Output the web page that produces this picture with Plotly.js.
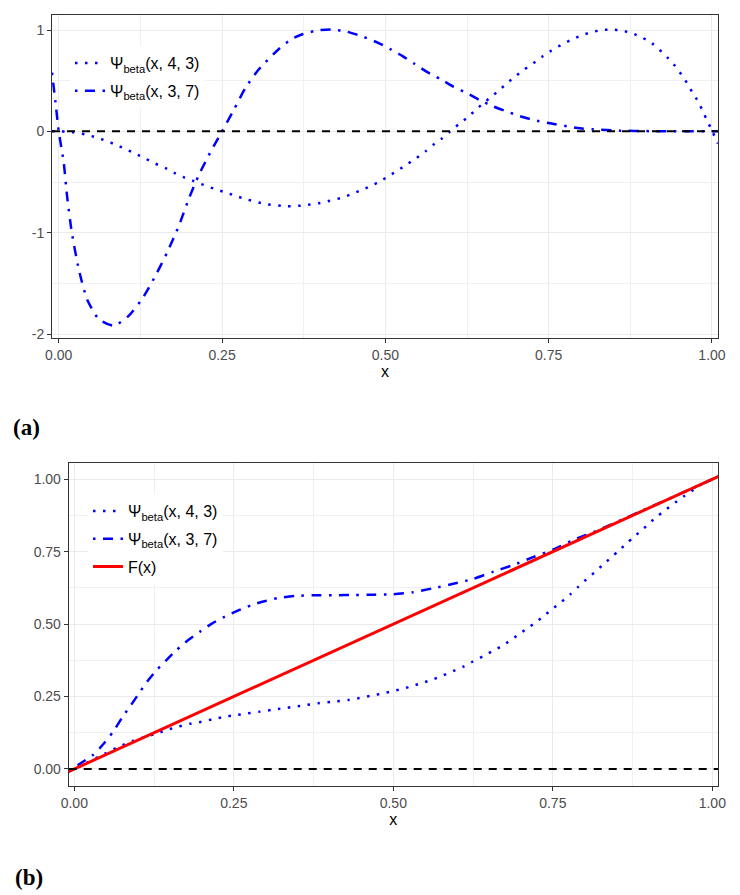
<!DOCTYPE html>
<html><head><meta charset="utf-8">
<script src="https://cdn.plot.ly/plotly-3.0.1.min.js"></script>
<style>body{margin:0;background:#fff}#chart{width:740px;height:895px}</style>
</head><body><div id="chart"></div>
<script>
// ---------- Panel (a) ----------
const aX43 = [-0.0103, 0, 0.015, 0.023, 0.04, 0.057, 0.072, 0.087, 0.102, 0.118, 0.133, 0.147, 0.163, 0.177, 0.191, 0.206, 0.222, 0.239, 0.255, 0.27, 0.286, 0.316, 0.35, 0.367, 0.382, 0.40, 0.415, 0.431, 0.446, 0.461, 0.477, 0.492, 0.506, 0.52, 0.534, 0.547, 0.561, 0.573, 0.587, 0.599, 0.612, 0.625, 0.637, 0.65, 0.663, 0.675, 0.687, 0.70, 0.713, 0.727, 0.74, 0.754, 0.768, 0.783, 0.798, 0.813, 0.829, 0.845, 0.862, 0.878, 0.893, 0.908, 0.92, 0.932, 0.943, 0.953, 0.962, 0.97, 0.979, 0.986, 0.993, 1.0, 1.009];
const aY43 = [0.002, 0, -0.004, -0.01, -0.03, -0.059, -0.092, -0.131, -0.174, -0.223, -0.27, -0.316, -0.361, -0.41, -0.452, -0.489, -0.529, -0.569, -0.602, -0.635, -0.668, -0.717, -0.738, -0.735, -0.724, -0.707, -0.684, -0.659, -0.625, -0.585, -0.541, -0.493, -0.437, -0.381, -0.322, -0.266, -0.2, -0.134, -0.069, -0.003, 0.069, 0.134, 0.204, 0.278, 0.345, 0.41, 0.479, 0.548, 0.612, 0.675, 0.737, 0.797, 0.849, 0.898, 0.942, 0.974, 0.997, 1.004, 0.994, 0.967, 0.925, 0.869, 0.803, 0.727, 0.649, 0.563, 0.474, 0.385, 0.293, 0.197, 0.102, 0.007, -0.12];
const aX37 = [-0.0103, -0.005, 0.0, 0.0077, 0.0127, 0.020, 0.0306, 0.0433, 0.0612, 0.0842, 0.107, 0.1275, 0.148, 0.166, 0.184, 0.199, 0.214, 0.232, 0.25, 0.268, 0.286, 0.306, 0.337, 0.357, 0.374, 0.40, 0.42, 0.441, 0.464, 0.487, 0.507, 0.527, 0.545, 0.563, 0.584, 0.604, 0.625, 0.645, 0.665, 0.686, 0.706, 0.7265, 0.752, 0.778, 0.798, 0.818, 0.859, 0.905, 0.95, 1.0, 1.009];
const aY37 = [0.58, 0.29, 0.0, -0.31, -0.635, -0.997, -1.358, -1.655, -1.852, -1.918, -1.82, -1.655, -1.425, -1.194, -0.93, -0.667, -0.437, -0.207, 0, 0.212, 0.43, 0.61, 0.813, 0.912, 0.961, 1.0, 1.004, 0.984, 0.938, 0.879, 0.813, 0.74, 0.665, 0.589, 0.517, 0.441, 0.377, 0.306, 0.247, 0.196, 0.15, 0.112, 0.079, 0.05, 0.03, 0.02, 0.007, 0.002, 0.0, 0.0, 0.0];

// ---------- Panel (b) ----------
const bX43 = [-0.0088, 0.019, 0.048, 0.071, 0.092, 0.113, 0.131, 0.147, 0.1625, 0.181, 0.199, 0.217, 0.236, 0.254, 0.272, 0.291, 0.309, 0.327, 0.346, 0.364, 0.382, 0.403, 0.429, 0.447, 0.466, 0.484, 0.4995, 0.515, 0.530, 0.547, 0.563, 0.578, 0.594, 0.610, 0.624, 0.640, 0.654, 0.669, 0.683, 0.697, 0.711, 0.725, 0.738, 0.751, 0.764, 0.777, 0.789, 0.802, 0.815, 0.827, 0.840, 0.852, 0.865, 0.877, 0.890, 0.902, 0.915, 0.9285, 0.942, 0.956, 0.970, 0.985, 1.0, 1.009];
const bY43 = [-0.009, 0.021, 0.053, 0.078, 0.097, 0.112, 0.124, 0.136, 0.146, 0.156, 0.163, 0.1715, 0.1805, 0.186, 0.192, 0.198, 0.204, 0.2095, 0.215, 0.221, 0.227, 0.232, 0.238, 0.245, 0.253, 0.261, 0.269, 0.277, 0.2865, 0.298, 0.31, 0.323, 0.338, 0.353, 0.370, 0.388, 0.405, 0.423, 0.443, 0.465, 0.487, 0.5085, 0.532, 0.555, 0.5775, 0.602, 0.627, 0.653, 0.678, 0.702, 0.727, 0.751, 0.777, 0.801, 0.825, 0.85, 0.874, 0.8975, 0.92, 0.942, 0.963, 0.985, 1.0, 1.009];
const bX37 = [-0.0088, 0.006, 0.029, 0.042, 0.061, 0.076, 0.089, 0.1025, 0.1155, 0.1285, 0.144, 0.16, 0.178, 0.197, 0.215, 0.236, 0.257, 0.277, 0.298, 0.319, 0.346, 0.377, 0.408, 0.44, 0.471, 0.50, 0.531, 0.563, 0.594, 0.625, 0.657, 0.688, 0.719, 0.751, 0.782, 0.82, 0.86, 0.9, 0.95, 1.0, 1.009];
const bY37 = [-0.006, 0.014, 0.048, 0.077, 0.129, 0.181, 0.221, 0.265, 0.305, 0.34, 0.375, 0.41, 0.444, 0.474, 0.501, 0.526, 0.547, 0.565, 0.579, 0.59, 0.597, 0.5996, 0.5996, 0.6006, 0.6017, 0.603, 0.61, 0.624, 0.639, 0.656, 0.681, 0.704, 0.731, 0.758, 0.79, 0.823, 0.862, 0.901, 0.95, 1.0, 1.009];
const bXF = [-0.01, 1.01];
const bYF = [-0.01, 1.01];

// ---------- Ticks & labels ----------
const xTickVals = [0, 0.25, 0.5, 0.75, 1];
const xTickText = ["0.00", "0.25", "0.50", "0.75", "1.00"];
const aYTickVals = [-2, -1, 0, 1];
const aYTickText = ["-2", "-1", "0", "1"];
const bYTickVals = [0, 0.25, 0.5, 0.75, 1];
const bYTickText = ["0.00", "0.25", "0.50", "0.75", "1.00"];
const seriesNames = ["Ψ<sub>beta</sub>(x, 4, 3)", "Ψ<sub>beta</sub>(x, 3, 7)", "F(x)"];
const zeroLevel = 0;
const panelLabels = ["<b>(a)</b>", "<b>(b)</b>"];
const axisTitle = "x";

const W = 740, H = 895;
const FONT = "Liberation Sans, Arial, sans-serif";
const dotted = {color: "#0000ff", width: 2.5, dash: "2.5px,7.5px"};
const dotdash = {color: "#0000ff", width: 2.5, dash: "2.5px,7.5px,10px,7.5px"};

const traces = [
  {x: aX43, y: aY43, xaxis: "x", yaxis: "y", mode: "lines", line: Object.assign({shape: "spline", smoothing: 0.6}, dotted), name: seriesNames[0], legend: "legend", legendgroup: "a1"},
  {x: aX37, y: aY37, xaxis: "x", yaxis: "y", mode: "lines", line: Object.assign({shape: "spline", smoothing: 0.6}, dotdash), name: seriesNames[1], legend: "legend", legendgroup: "a2"},
  {x: bX43, y: bY43, xaxis: "x2", yaxis: "y2", mode: "lines", line: Object.assign({shape: "spline", smoothing: 0.6}, dotted), name: seriesNames[0], legend: "legend2", legendgroup: "b1"},
  {x: bX37, y: bY37, xaxis: "x2", yaxis: "y2", mode: "lines", line: Object.assign({shape: "spline", smoothing: 0.6}, dotdash), name: seriesNames[1], legend: "legend2", legendgroup: "b2"},
  {x: bXF, y: bYF, xaxis: "x2", yaxis: "y2", mode: "lines", line: {color: "#ff0000", width: 3}, name: seriesNames[2], legend: "legend2", legendgroup: "b3"}
];

function axisBase(extra) {
  return Object.assign({
    showline: true, mirror: true, linecolor: "#333333", linewidth: 1,
    ticks: "outside", ticklen: 4, tickwidth: 1, tickcolor: "#333333",
    tickfont: {family: FONT, size: 14, color: "#4d4d4d"},
    showgrid: true, gridcolor: "#ebebeb", gridwidth: 1.3,
    zeroline: false, tickmode: "array", fixedrange: true
  }, extra);
}

const layout = {
  width: W, height: H,
  margin: {l: 0, r: 0, t: 0, b: 0},
  paper_bgcolor: "#ffffff", plot_bgcolor: "#ffffff",
  font: {family: FONT, color: "#000000"},
  xaxis: axisBase({domain: [52 / W, 718 / W], range: [-0.0103, 1.0092], anchor: "y",
    tickvals: xTickVals, ticktext: xTickText,
    minor: {tickmode: "linear", tick0: 0, dtick: 0.125, showgrid: true, gridcolor: "#f0f0f0", gridwidth: 0.7, ticks: ""},
    title: {text: axisTitle, font: {family: FONT, size: 16, color: "#000"}, standoff: 2}}),
  yaxis: axisBase({domain: [1 - 338.3 / H, 1 - 15 / H], range: [-2.042, 1.148], anchor: "x",
    tickvals: aYTickVals, ticktext: aYTickText,
    minor: {tickmode: "linear", tick0: -2, dtick: 0.5, showgrid: true, gridcolor: "#f0f0f0", gridwidth: 0.7, ticks: ""}}),
  xaxis2: axisBase({domain: [68.7 / W, 718 / W], range: [-0.0088, 1.0089], anchor: "y2",
    tickvals: xTickVals, ticktext: xTickText,
    minor: {tickmode: "linear", tick0: 0, dtick: 0.125, showgrid: true, gridcolor: "#f0f0f0", gridwidth: 0.7, ticks: ""},
    title: {text: axisTitle, font: {family: FONT, size: 16, color: "#000"}, standoff: 4}}),
  yaxis2: axisBase({domain: [1 - 786 / H, 1 - 462.7 / H], range: [-0.0587, 1.057], anchor: "x2",
    tickvals: bYTickVals, ticktext: bYTickText,
    minor: {tickmode: "linear", tick0: 0, dtick: 0.125, showgrid: true, gridcolor: "#f0f0f0", gridwidth: 0.7, ticks: ""}}),
  shapes: [
    {type: "line", layer: "above", xref: "paper", x0: 52 / W, x1: 718 / W, yref: "y", y0: zeroLevel, y1: zeroLevel, line: {color: "#000000", width: 2, dash: "8px,7px"}},
    {type: "line", layer: "above", xref: "paper", x0: 68.7 / W, x1: 718 / W, yref: "y2", y0: zeroLevel, y1: zeroLevel, line: {color: "#000000", width: 2, dash: "8px,7px"}}
  ],
  legend: {x: 70 / W, y: 1 - 46 / H, xanchor: "left", yanchor: "top", bgcolor: "#ffffff",
    font: {family: FONT, size: 16, color: "#000"}, tracegroupgap: 4, borderwidth: 0},
  legend2: {x: 88 / W, y: 1 - 494 / H, xanchor: "left", yanchor: "top", bgcolor: "#ffffff",
    font: {family: FONT, size: 16, color: "#000"}, tracegroupgap: 4, borderwidth: 0},
  annotations: [
    {text: panelLabels[0], xref: "paper", yref: "paper", x: 11 / W, y: 1 - 428 / H, xanchor: "left", yanchor: "middle", showarrow: false,
     font: {family: "Liberation Serif, serif", size: 23, color: "#000"}},
    {text: panelLabels[1], xref: "paper", yref: "paper", x: 13 / W, y: 1 - 877 / H, xanchor: "left", yanchor: "middle", showarrow: false,
     font: {family: "Liberation Serif, serif", size: 23, color: "#000"}}
  ],
  showlegend: true
};

Plotly.newPlot("chart", traces, layout, {displayModeBar: false});
</script>
</body></html>
